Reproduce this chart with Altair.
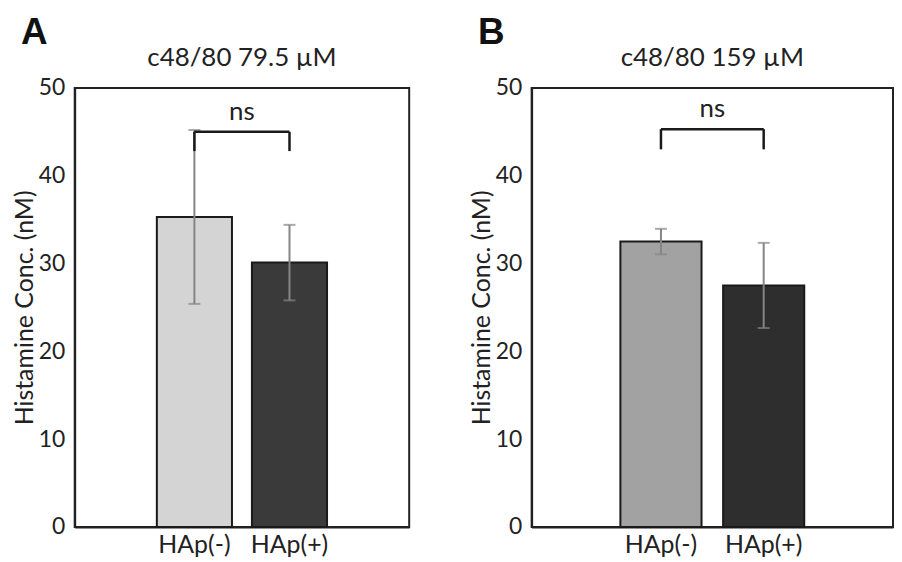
import altair as alt
import pandas as pd

FONT = "Lato"

groups = ["HAp(-)", "HAp(+)"]

title_a = "c48/80 79.5 µM"
mean_a = [35.3, 30.1]
sd_a = [9.9, 4.3]
fill_a = ["#d4d4d4", "#3a3a3a"]
bracket_a = [42.8, 45.0]

title_b = "c48/80 159 µM"
mean_b = [32.5, 27.5]
sd_b = [1.45, 4.85]
fill_b = ["#a2a2a2", "#2e2e2e"]
bracket_b = [43.0, 45.3]

y_ticks = [0, 10, 20, 30, 40, 50]
y_title = "Histamine Conc. (nM)"
sig_label = "ns"

P_IN, P_OUT = 0.21, 0.864


def panel(letter, title, means, sds, fills, bracket, width, height):
    df = pd.DataFrame({
        "g": groups,
        "m": means,
        "lo": [m - s for m, s in zip(means, sds)],
        "hi": [m + s for m, s in zip(means, sds)],
        "fill": fills,
    })
    xs = alt.Scale(domain=groups, paddingInner=P_IN, paddingOuter=P_OUT)
    x = alt.X("g:N", scale=xs,
              axis=alt.Axis(title=None, labelAngle=0, ticks=False,
                            labelFontSize=25, labelFont=FONT, labelColor="#222",
                            labelPadding=6, domainColor="#222", domainWidth=2))
    ys = alt.Scale(domain=[0, 50])
    y = alt.Y("m:Q", scale=ys,
              axis=alt.Axis(title=y_title, values=y_ticks, ticks=False, grid=False,
                            labelFontSize=23, labelFont=FONT, labelColor="#222",
                            labelPadding=10, titleFontSize=25, titleFont=FONT,
                            titleFontWeight="normal", titleColor="#222",
                            titlePadding=1, domainColor="#222", domainWidth=2))
    base = alt.Chart(df)
    bars = base.mark_bar(stroke="#1a1a1a", strokeWidth=2).encode(
        x=x, y=y, fill=alt.Fill("fill:N", scale=None))
    err = base.mark_rule(color="#858585", strokeWidth=2).encode(
        x=alt.X("g:N"), y=alt.Y("lo:Q"), y2="hi:Q")
    cap_lo = base.mark_tick(color="#858585", thickness=2, size=12).encode(
        x=alt.X("g:N"), y=alt.Y("lo:Q"))
    cap_hi = base.mark_tick(color="#858585", thickness=2, size=12).encode(
        x=alt.X("g:N"), y=alt.Y("hi:Q"))

    br_df = pd.DataFrame({"a": [groups[0]], "b": [groups[1]],
                          "bot": [bracket[0]], "top": [bracket[1]]})
    legs_df = pd.DataFrame({"g": groups, "bot": [bracket[0]] * 2, "top": [bracket[1]] * 2})
    br_h = alt.Chart(br_df).mark_rule(color="#1a1a1a", strokeWidth=2.5).encode(
        x=alt.X("a:N"), x2="b:N", y=alt.Y("top:Q"))
    br_v = alt.Chart(legs_df).mark_rule(color="#1a1a1a", strokeWidth=2.5).encode(
        x=alt.X("g:N"), y=alt.Y("bot:Q"), y2="top:Q")
    step = width / (len(groups) - P_IN + 2 * P_OUT)
    ns_df = pd.DataFrame({"g": [groups[0]], "t": [sig_label], "y": [bracket[1] + 2.3]})
    ns = alt.Chart(ns_df).mark_text(fontSize=26, font=FONT, color="#222", dx=step / 2,
                                    baseline="middle").encode(
        x=alt.X("g:N"), y=alt.Y("y:Q"), text="t:N")
    lab = alt.Chart(pd.DataFrame({"t": [letter]})).mark_text(
        fontSize=37, font="Liberation Sans", fontWeight="bold", color="#111",
        align="left", baseline="middle").encode(
        x=alt.value(-54), y=alt.value(-55.5), text="t:N")
    ttl = alt.Chart(pd.DataFrame({"t": [title]})).mark_text(
        fontSize=26, font=FONT, color="#222", align="center",
        baseline="middle").encode(
        x=alt.value(width / 2), y=alt.value(-30), text="t:N")

    return alt.layer(bars, err, cap_lo, cap_hi, br_h, br_v, ns, lab, ttl).properties(
        width=width, height=height)


pa = panel("A", title_a, mean_a, sd_a, fill_a, bracket_a, 336, 441)
pb = panel("B", title_b, mean_b, sd_b, fill_b, bracket_b, 363, 441)

chart = alt.hconcat(pa, pb, spacing=58).properties(
    padding={"left": 3, "top": 3, "right": 0, "bottom": 0},
    background="white").configure_view(stroke="#222", strokeWidth=2)

chart.save("out.html", embed_options={"renderer": "svg", "actions": False})
